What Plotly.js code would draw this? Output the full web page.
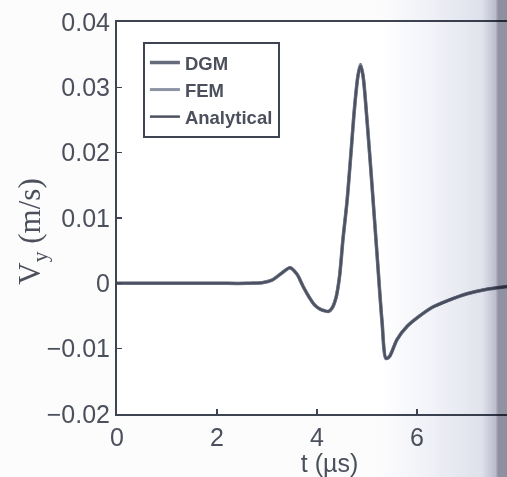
<!DOCTYPE html>
<html>
<head>
<meta charset="utf-8">
<script src="https://cdn.plot.ly/plotly-3.0.1.min.js"></script>
<style>
html, body { margin:0; padding:0; overflow:hidden; background:#fcfcfd; width:507px; height:477px; }
#chart { position:absolute; left:0; top:0; }
#shade { position:absolute; left:380px; top:0; width:127px; height:477px; pointer-events:none;
  background: linear-gradient(to right, rgba(205,210,230,0) 0%, rgba(205,210,230,0.22) 35%, rgba(190,195,215,0.45) 80%, rgba(160,163,185,0.7) 91%, rgba(125,127,145,0.85) 93%, rgba(125,127,145,0.85) 100%);
  mix-blend-mode:multiply; }
</style>
</head>
<body>
<div id="chart"></div>
<div id="shade"></div>
<script>
// time (µs)
var t = [0, 1, 2, 2.6, 2.9, 3.1, 3.3, 3.46, 3.6, 3.73, 3.85, 3.95, 4.05, 4.15, 4.23, 4.3, 4.38, 4.45, 4.52, 4.6, 4.68, 4.75, 4.82, 4.87, 4.92, 5.0, 5.1, 5.2, 5.3, 5.38, 5.45, 5.6, 5.8, 6.0, 6.3, 6.6, 7.0, 7.4, 7.8, 8.0, 8.5];
// Vy (m/s)
var dgm = [0, 0, 0, 0, 0.0001, 0.0005, 0.0016, 0.0024, 0.0014, -0.0006, -0.0022, -0.0033, -0.0039, -0.0042, -0.0043, -0.0038, -0.0022, 0.0010, 0.0068, 0.0125, 0.0200, 0.0268, 0.0318, 0.0335, 0.0318, 0.0250, 0.0150, 0.0045, -0.0058, -0.0115, -0.0112, -0.0086, -0.0066, -0.0053, -0.0037, -0.0027, -0.0016, -0.0009, -0.0005, -0.0003, -0.0001];
var fem = [0, 0, 0, 0, 0.0001, 0.0005, 0.0016, 0.0024, 0.0014, -0.0006, -0.0022, -0.0033, -0.0039, -0.0042, -0.0043, -0.0038, -0.0022, 0.0010, 0.0068, 0.0125, 0.0200, 0.0268, 0.0318, 0.0334, 0.0318, 0.0250, 0.0150, 0.0045, -0.0058, -0.0115, -0.0112, -0.0086, -0.0066, -0.0053, -0.0037, -0.0027, -0.0016, -0.0009, -0.0005, -0.0003, -0.0001];
var analytical = [0, 0, 0, 0, 0.0001, 0.0005, 0.0016, 0.0024, 0.0014, -0.0006, -0.0022, -0.0033, -0.0039, -0.0042, -0.0043, -0.0038, -0.0022, 0.0010, 0.0068, 0.0125, 0.0200, 0.0268, 0.0318, 0.0333, 0.0318, 0.0250, 0.0150, 0.0045, -0.0058, -0.0115, -0.0112, -0.0086, -0.0066, -0.0053, -0.0037, -0.0027, -0.0016, -0.0009, -0.0005, -0.0003, -0.0001];
var seriesNames = ['DGM', 'FEM', 'Analytical'];
var xTicks = [0, 2, 4, 6];
var yTicks = [-0.02, -0.01, 0, 0.01, 0.02, 0.03, 0.04];
var yTickText = ['−0.02', '−0.01', '0', '0.01', '0.02', '0.03', '0.04'];
var xTitle = 't (µs)';
var yTitle = 'V<sub>y</sub> (m/s)';

var colors = ['#666b7b', '#8c94a3', '#4d5262'];
var widths = [3.5, 3, 2.5];
var ys = [dgm, fem, analytical];
var data = ys.map(function(y, i) {
  return { x: t, y: y, type: 'scatter', mode: 'lines', name: seriesNames[i],
    line: { color: colors[i], width: widths[i], shape: 'spline', smoothing: 0.8 } };
});

var axisFont = { family: '"Liberation Sans", Arial, sans-serif', size: 25, color: '#4b505c' };
var layout = {
  width: 560, height: 477,
  margin: { l: 117, r: 18, t: 22, b: 63 },
  paper_bgcolor: '#fcfcfd', plot_bgcolor: '#ffffff',
  showlegend: true,
  legend: {
    x: 0.061, y: 0.949, xanchor: 'left', yanchor: 'top',
    bgcolor: '#ffffff', bordercolor: '#3f4452', borderwidth: 2,
    font: { family: '"Liberation Sans", Arial, sans-serif', size: 18.5, color: '#4b505c', weight: 'bold' }
  },
  xaxis: {
    range: [0, 8.5], tickvals: xTicks, ticktext: xTicks.map(String),
    ticks: 'inside', ticklen: 5, tickwidth: 1.5, tickcolor: '#3f4452',
    showline: true, linecolor: '#3f4452', linewidth: 2, mirror: true,
    showgrid: false, zeroline: false, tickfont: axisFont,
    title: { text: xTitle, font: axisFont, standoff: 0 }
  },
  yaxis: {
    range: [-0.02, 0.04], tickvals: yTicks, ticktext: yTickText,
    ticks: 'inside', ticklen: 5, tickwidth: 1.5, tickcolor: '#3f4452',
    showline: true, linecolor: '#3f4452', linewidth: 2, mirror: true,
    showgrid: false, zeroline: false, tickfont: axisFont
  },
  annotations: [{
    text: yTitle, xref: 'paper', yref: 'paper', x: -0.2, y: 0.465,
    xanchor: 'center', yanchor: 'middle', textangle: -90, showarrow: false,
    font: { family: '"Liberation Serif", "Times New Roman", serif', size: 31, color: '#4b505c' }
  }]
};
Plotly.newPlot('chart', data, layout, { displayModeBar: false, staticPlot: true });
</script>
</body>
</html>
